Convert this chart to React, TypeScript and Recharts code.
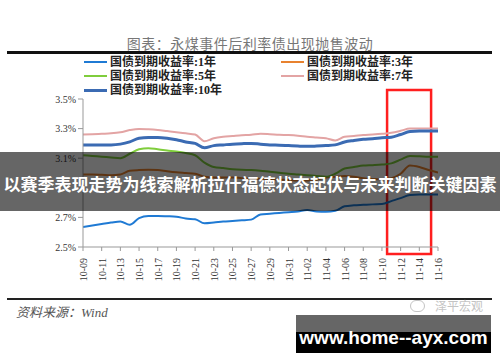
import React from 'react';
import { LineChart, Line, XAxis, YAxis, ReferenceArea, Legend } from 'recharts';

const dates = ['10-09','10-10','10-11','10-12','10-13','10-14','10-15','10-16','10-17','10-18','10-19','10-20','10-21','10-22','10-23','10-24','10-25','10-26','10-27','10-28','10-29','10-30','10-31','11-01','11-02','11-03','11-04','11-05','11-06','11-07','11-08','11-09','11-10','11-11','11-12','11-13','11-14','11-15','11-16'];
const yr1 = [2.635,2.645,2.655,2.665,2.673,2.65,2.695,2.71,2.71,2.708,2.705,2.692,2.688,2.66,2.665,2.672,2.676,2.68,2.685,2.72,2.725,2.73,2.735,2.74,2.75,2.74,2.738,2.745,2.775,2.782,2.785,2.788,2.79,2.81,2.83,2.852,2.855,2.855,2.855];
const yr3 = [2.99,2.99,2.988,2.985,2.99,3.015,3.02,3.022,3.02,3.012,3.005,3.0,2.995,2.975,2.97,2.97,2.97,2.965,2.962,2.96,2.958,2.955,2.953,2.95,2.95,2.955,2.97,2.975,2.98,2.975,2.965,2.96,2.958,2.965,2.995,3.05,3.04,3.02,3.003];
const yr5 = [3.12,3.115,3.11,3.105,3.10,3.13,3.16,3.168,3.16,3.152,3.145,3.135,3.12,3.07,3.04,3.033,3.026,3.022,3.02,3.015,3.008,3.002,2.995,2.99,2.985,2.98,2.975,2.995,3.03,3.04,3.05,3.053,3.057,3.065,3.09,3.115,3.113,3.11,3.11];
const yr7 = [3.26,3.262,3.265,3.268,3.275,3.29,3.298,3.295,3.29,3.283,3.276,3.268,3.26,3.215,3.235,3.245,3.25,3.255,3.258,3.265,3.262,3.258,3.256,3.252,3.245,3.24,3.235,3.22,3.245,3.25,3.256,3.26,3.265,3.272,3.285,3.30,3.30,3.30,3.30];
const yr10 = [3.19,3.19,3.19,3.19,3.195,3.21,3.235,3.24,3.24,3.235,3.225,3.21,3.2,3.17,3.185,3.19,3.195,3.198,3.2,3.195,3.19,3.188,3.185,3.182,3.18,3.182,3.185,3.19,3.21,3.22,3.228,3.232,3.238,3.242,3.26,3.28,3.283,3.283,3.283];
const xTicks = [0,2,4,6,8,10,12,14,16,18,20,22,24,26,28,30,32,34,36,38];
const yTicks = [2.5,2.7,3.1,3.3,3.5];
const highlight = { x1: 32.55, x2: 37.26, y1: 2.452, y2: 3.561 };

const series = [
  { key: 'y1', name: '国债到期收益率:1年', color: '#1f7ad4', width: 2 },
  { key: 'y3', name: '国债到期收益率:3年', color: '#e8822f', width: 2 },
  { key: 'y5', name: '国债到期收益率:5年', color: '#7fcd3c', width: 2 },
  { key: 'y7', name: '国债到期收益率:7年', color: '#e3a4a4', width: 2 },
  { key: 'y10', name: '国债到期收益率:10年', color: '#3b6bb3', width: 3 },
];

const data = dates.map((d, i) => ({ i, date: d, y1: yr1[i], y3: yr3[i], y5: yr5[i], y7: yr7[i], y10: yr10[i] }));

const XTick = (props: any) => {
  const { x, y, payload } = props;
  return (
    <text transform={`translate(${x + 4},${y + 5}) rotate(-90)`} textAnchor="end" fontSize={10} fill="#333" fontFamily="'Liberation Serif', serif">
      {dates[payload.value]}
    </text>
  );
};

const LegendContent = () => (
  <div style={{ position: 'relative', width: 500, height: 44 }}>
    {series.map((s, idx) => {
      const col = idx % 2;
      const row = Math.floor(idx / 2);
      const left = col === 0 ? 84 : 281;
      const top = row * 14;
      return (
        <div key={s.key} style={{ position: 'absolute', left, top, height: 14, display: 'flex', alignItems: 'center', whiteSpace: 'nowrap' }}>
          <div style={{ width: 23, height: s.width, background: s.color, marginRight: 3 }} />
          <span style={{ fontFamily: "'Liberation Serif', 'Noto Sans CJK SC', serif", fontWeight: 700, fontSize: 12, color: '#222', lineHeight: '14px' }}>{s.name}</span>
        </div>
      );
    })}
  </div>
);

export default function App() {
  return (
    <div style={{ position: 'absolute', left: 0, top: 0, width: 500, height: 362, background: '#fff', overflow: 'hidden' }}>
      <div style={{ position: 'absolute', left: 0, top: 33, width: 500, textAlign: 'center', fontFamily: "'Noto Sans CJK SC', sans-serif", fontSize: 14, letterSpacing: 0.5, color: '#777', lineHeight: '20px' }}>
        图表：永煤事件后利率债出现抛售波动
      </div>
      <div style={{ position: 'absolute', left: 7, top: 51, width: 485, height: 3, background: '#111' }} />
      <div style={{ position: 'absolute', left: 0, top: 0 }}>
        <LineChart width={500} height={362} data={data} margin={{ top: 99, right: 62, bottom: 85, left: 43 }}>
          <XAxis dataKey="i" type="number" domain={[0, 38]} ticks={xTicks} interval={0} height={30} tick={<XTick />} tickLine={{ stroke: '#999' }} tickSize={4} axisLine={{ stroke: '#999' }} allowDataOverflow />
          <YAxis type="number" domain={[2.5, 3.5]} ticks={yTicks} interval={0} width={40} tickFormatter={(v: number) => `${v.toFixed(1)}%`} tick={{ fontSize: 10, fill: '#333', fontFamily: "'Liberation Serif', serif" }} tickLine={{ stroke: '#999' }} tickSize={5} axisLine={{ stroke: '#999' }} />
          <Legend layout="vertical" align="center" verticalAlign="middle" wrapperStyle={{ top: 55, left: 0, width: 500, height: 44 }} content={<LegendContent />} />
          {series.map((s) => (
            <Line key={s.key} dataKey={s.key} name={s.name} type="monotone" stroke={s.color} strokeWidth={s.width} dot={false} isAnimationActive={false} />
          ))}
          <ReferenceArea x1={highlight.x1} x2={highlight.x2} y1={highlight.y1} y2={highlight.y2} ifOverflow="visible" fill="none" stroke="#ff1f1f" strokeWidth={2.5} />
        </LineChart>
      </div>
      <div style={{ position: 'absolute', left: 7, top: 298, width: 485, height: 2, background: '#222' }} />
      <div style={{ position: 'absolute', left: 16, top: 304, fontFamily: "'Liberation Serif', 'Noto Sans CJK SC', serif", fontStyle: 'italic', fontSize: 13, color: '#555', lineHeight: '18px' }}>
        资料来源：Wind
      </div>
      <div style={{ position: 'absolute', left: 410, top: 299, display: 'flex', alignItems: 'center', color: '#c4c4c4', fontFamily: "'Noto Sans CJK SC', sans-serif", fontSize: 12, lineHeight: '14px' }}>
        <div style={{ width: 13, height: 10, borderRadius: 6, border: '1.5px solid #c4c4c4', marginRight: 10 }} />
        泽平宏观
      </div>
      <div style={{ position: 'absolute', left: 0, top: 152, width: 500, height: 59, background: 'rgba(0,0,0,0.6)' }} />
      <div style={{ position: 'absolute', left: 0, top: 172, width: 500, textAlign: 'center', color: '#fff', fontFamily: "'Noto Sans CJK SC', sans-serif", fontWeight: 700, fontSize: 17, lineHeight: '24px', whiteSpace: 'nowrap' }}>
        以赛季表现走势为线索解析拉什福德状态起伏与未来判断关键因素
      </div>
      <div style={{ position: 'absolute', left: 296, top: 315, width: 195, height: 17, background: '#666' }} />
      <div style={{ position: 'absolute', left: 296, top: 332, width: 195, height: 21, background: '#000' }} />
      <div style={{ position: 'absolute', left: 296, top: 326, width: 195, textAlign: 'center', color: '#fff', fontFamily: "'Liberation Sans', Arial, sans-serif", fontWeight: 700, fontSize: 19, lineHeight: '24px' }}>
        www.home--ayx.com
      </div>
    </div>
  );
}
